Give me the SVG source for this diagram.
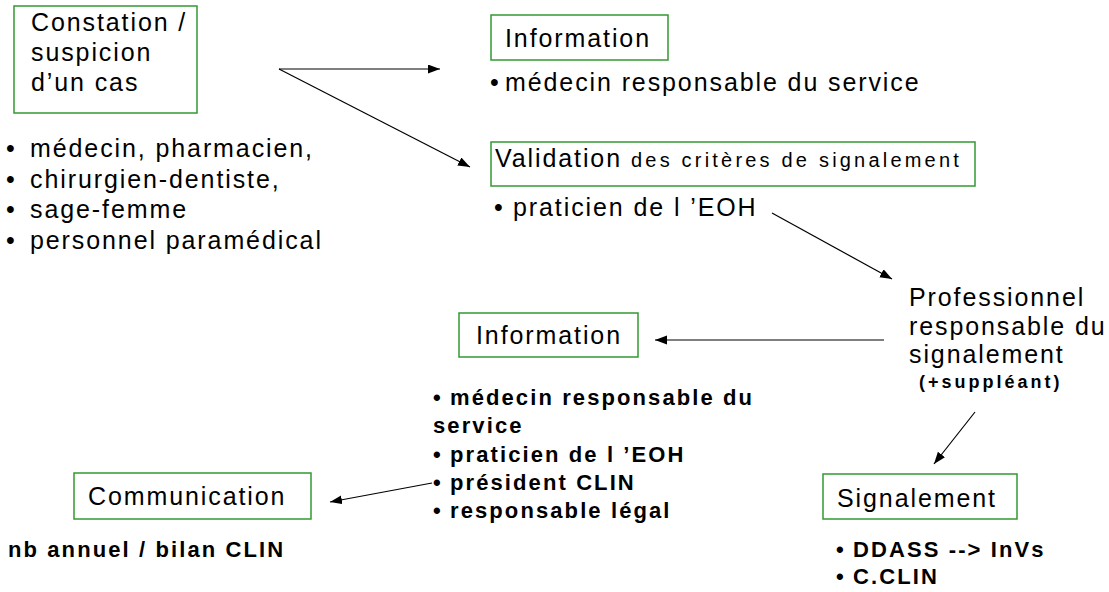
<svg xmlns="http://www.w3.org/2000/svg" width="1109" height="592" viewBox="0 0 1109 592">
<style>
.box{fill:#fff;stroke:#339933;stroke-width:1.5}
.r{font-family:"Liberation Sans",Arial,sans-serif;font-size:25px;letter-spacing:1.9px;fill:#000}
.s{font-family:"Liberation Sans",Arial,sans-serif;font-size:20px;letter-spacing:3.2px;fill:#000}
.b{font-family:"Liberation Sans",Arial,sans-serif;font-size:22px;font-weight:bold;letter-spacing:2.1px;fill:#000}
.bs{font-family:"Liberation Sans",Arial,sans-serif;font-size:18px;font-weight:bold;letter-spacing:3px;fill:#000}
.c{stroke:#000;stroke-width:1.2;fill:none;marker-end:url(#ah)}
</style>
<defs>
<marker id="ah" markerUnits="userSpaceOnUse" markerWidth="13" markerHeight="10" refX="12" refY="4.5" orient="auto">
<path d="M0,0 L12,4.5 L0,9 z" fill="#000"/>
</marker>
</defs>
<rect width="1109" height="592" fill="#fff"/>

<g id="connectors">
<line class="c" x1="279" y1="69" x2="440" y2="69"/>
<line class="c" x1="279" y1="69" x2="470" y2="167"/>
<line class="c" x1="772" y1="213" x2="892" y2="279"/>
<line class="c" x1="884" y1="340" x2="655" y2="340"/>
<line class="c" x1="975" y1="412" x2="934" y2="464"/>
<line class="c" x1="432" y1="483" x2="330" y2="502"/>
</g>

<g id="constation">
<rect class="box" x="14" y="6" width="183" height="107"/>
<text class="r" x="31" y="31">Constation /</text>
<text class="r" x="31" y="61">suspicion</text>
<text class="r" x="31" y="91">d’un cas</text>
</g>

<g id="acteurs">
<text class="r" x="6" y="157">•</text><text class="r" x="30" y="157">médecin, pharmacien,</text>
<text class="r" x="6" y="188">•</text><text class="r" x="30" y="188">chirurgien-dentiste,</text>
<text class="r" x="6" y="218">•</text><text class="r" x="30" y="218">sage-femme</text>
<text class="r" x="6" y="249">•</text><text class="r" x="30" y="249">personnel paramédical</text>
</g>

<g id="information1">
<rect class="box" x="491" y="15" width="177" height="45"/>
<text class="r" x="505" y="47">Information</text>
<text class="r" x="490" y="91">•</text><text class="r" x="505" y="91">médecin responsable du service</text>
</g>

<g id="validation">
<rect class="box" x="491" y="142" width="484" height="44"/>
<text x="495" y="167"><tspan class="r">Validation</tspan><tspan class="s" x="631">des critères de signalement</tspan></text>
<text class="r" x="494" y="216">•</text><text class="r" x="513" y="216">praticien de l ’EOH</text>
</g>

<g id="professionnel">
<text class="r" x="909" y="306">Professionnel</text>
<text class="r" x="909" y="335">responsable du</text>
<text class="r" x="909" y="363">signalement</text>
<text class="bs" x="919" y="388">(+suppléant)</text>
</g>

<g id="information2">
<rect class="box" x="459" y="313" width="179" height="44"/>
<text class="r" x="476" y="344">Information</text>
<text class="b" x="433" y="405">•</text><text class="b" x="450" y="405">médecin responsable du</text>
<text class="b" x="433" y="433">service</text>
<text class="b" x="433" y="462">•</text><text class="b" x="450" y="462">praticien de l ’EOH</text>
<text class="b" x="433" y="490">•</text><text class="b" x="450" y="490">président CLIN</text>
<text class="b" x="433" y="518">•</text><text class="b" x="450" y="518">responsable légal</text>
</g>

<g id="communication">
<rect class="box" x="74" y="473" width="237" height="46"/>
<text class="r" x="88" y="505">Communication</text>
<text class="b" x="8" y="557">nb annuel / bilan CLIN</text>
</g>

<g id="signalement">
<rect class="box" x="823" y="474" width="194" height="45"/>
<text class="r" x="837" y="507">Signalement</text>
<text class="b" x="836" y="557">•</text><text class="b" x="853" y="557">DDASS --&gt; InVs</text>
<text class="b" x="836" y="584">•</text><text class="b" x="853" y="584">C.CLIN</text>
</g>
</svg>
